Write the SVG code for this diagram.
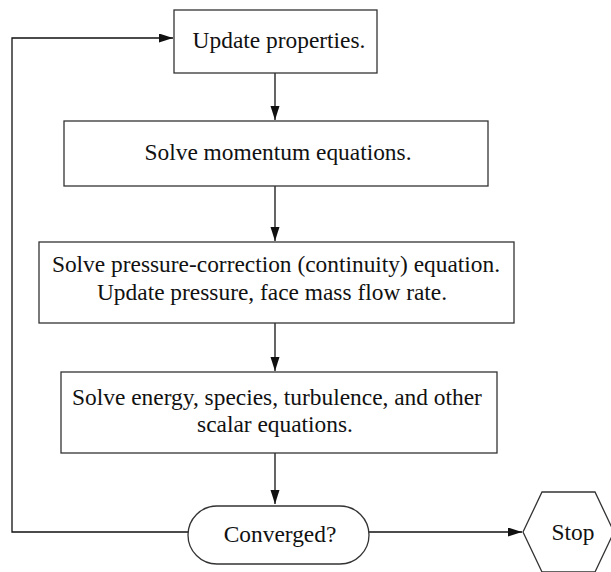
<svg xmlns="http://www.w3.org/2000/svg" width="611" height="572" viewBox="0 0 611 572">
<defs>
<style>
.box{fill:#fff;stroke:#333;stroke-width:1.3}
.t{font-family:"Liberation Serif","Times New Roman",serif;font-size:23.4px;fill:#111;text-anchor:middle}
.c{fill:none;stroke:#111;stroke-width:1.3}
</style>
<marker id="ah" markerUnits="userSpaceOnUse" markerWidth="15" markerHeight="10" refX="14" refY="4.5" orient="auto">
<path d="M0,0 L14,4.5 L0,9 z" fill="#111"/>
</marker>
</defs>
<rect width="611" height="572" fill="#fff"/>
<g id="connectors">
<path class="c" d="M275,73 V120" marker-end="url(#ah)"/>
<path class="c" d="M275,186 V241" marker-end="url(#ah)"/>
<path class="c" d="M275,323 V371" marker-end="url(#ah)"/>
<path class="c" d="M275,453 V504" marker-end="url(#ah)"/>
<path class="c" d="M188,532 H12 V38 H173" marker-end="url(#ah)"/>
<path class="c" d="M369,532 H522" marker-end="url(#ah)"/>
</g>
<g id="update">
<rect class="box" x="174" y="10" width="203" height="63"/>
<text class="t" x="279" y="48">Update properties.</text>
</g>
<g id="momentum">
<rect class="box" x="64" y="121" width="424" height="65"/>
<text class="t" x="278" y="160">Solve momentum equations.</text>
</g>
<g id="pressure">
<rect class="box" x="39" y="242" width="475" height="81"/>
<text class="t" x="276" y="272">Solve pressure-correction (continuity) equation.</text>
<text class="t" x="272" y="300">Update pressure, face mass flow rate.</text>
</g>
<g id="energy">
<rect class="box" x="61" y="372" width="436" height="81"/>
<text class="t" x="277" y="405">Solve energy, species, turbulence, and other</text>
<text class="t" x="275" y="432">scalar equations.</text>
</g>
<g id="converged">
<rect class="box" x="188" y="506" width="181" height="58" rx="29" ry="29"/>
<text class="t" x="280" y="542">Converged?</text>
</g>
<g id="stop">
<polygon class="box" points="523,532 542,492 595,492 614,532 595,572 542,572"/>
<text class="t" x="573" y="540">Stop</text>
</g>
</svg>
